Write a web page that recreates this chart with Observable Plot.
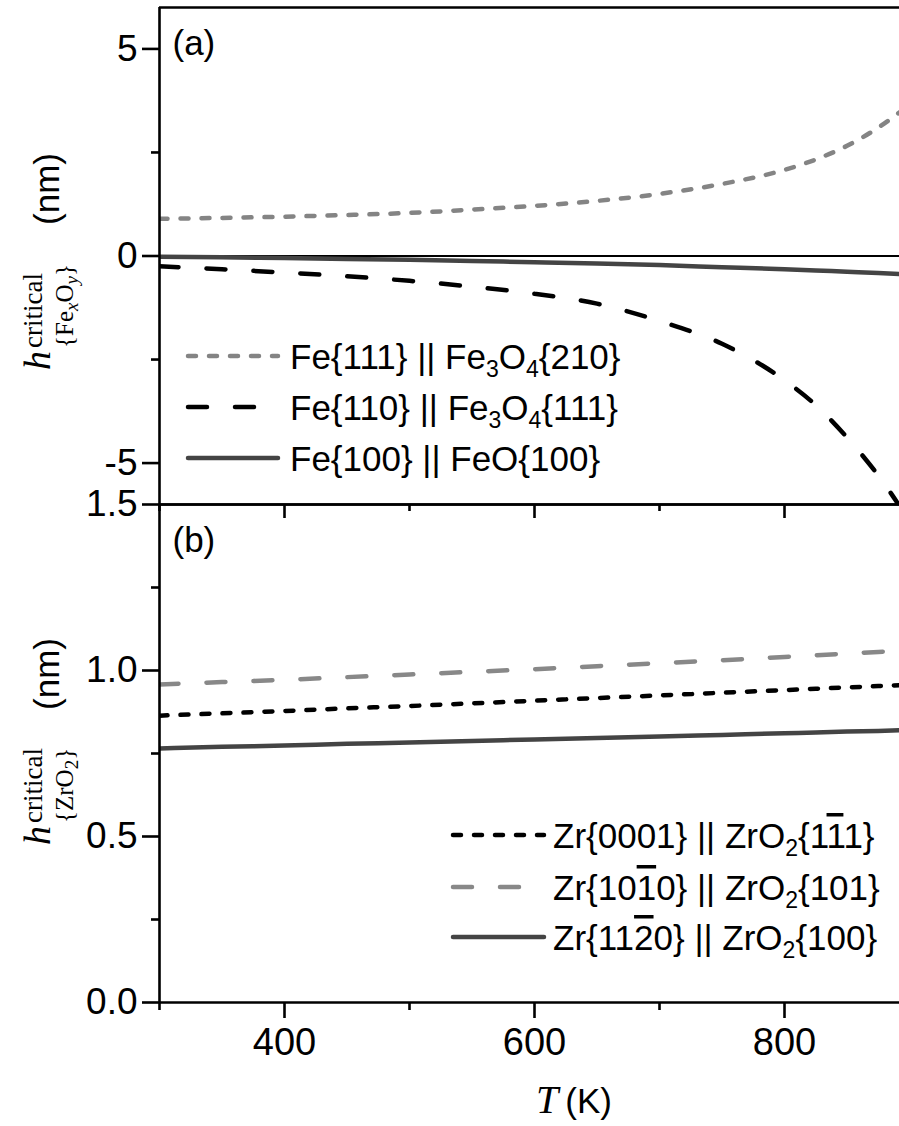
<!DOCTYPE html>
<html><head><meta charset="utf-8">
<script src="https://cdn.jsdelivr.net/npm/d3@7"></script>
<script src="https://cdn.jsdelivr.net/npm/@observablehq/plot@0.6"></script>
<style>
html,body{margin:0;padding:0;background:#fff;overflow:hidden}
#wrap{position:relative;width:899px;height:1126px;overflow:hidden;background:#fff}
#wrap svg{position:absolute;left:0;max-width:none;overflow:visible;background:transparent}
</style></head><body><div id="wrap"></div>
<script>
// ---------- data ----------
const T = [300, 350, 400, 450, 500, 550, 600, 650, 700, 750, 800, 825, 850, 875, 900];
// panel (a)
const fe111_fe3o4_210 = [0.90, 0.92, 0.95, 0.99, 1.04, 1.12, 1.21, 1.33, 1.50, 1.74, 2.08, 2.33, 2.66, 3.10, 3.65];
const fe110_fe3o4_111 = [-0.25, -0.32, -0.40, -0.49, -0.60, -0.74, -0.91, -1.15, -1.57, -2.12, -3.00, -3.60, -4.38, -5.30, -6.40];
const fe100_feo_100   = [-0.02, -0.03, -0.05, -0.07, -0.09, -0.12, -0.15, -0.18, -0.22, -0.27, -0.32, -0.35, -0.38, -0.41, -0.45];
// panel (b)
const zr0001_zro2_1b11 = [0.864, 0.871, 0.878, 0.886, 0.893, 0.901, 0.909, 0.917, 0.925, 0.933, 0.941, 0.945, 0.949, 0.953, 0.957];
const zr10b10_zro2_101 = [0.958, 0.965, 0.972, 0.980, 0.988, 0.996, 1.004, 1.013, 1.022, 1.031, 1.041, 1.046, 1.051, 1.056, 1.062];
const zr11b20_zro2_100 = [0.765, 0.770, 0.774, 0.779, 0.783, 0.788, 0.792, 0.797, 0.801, 0.806, 0.811, 0.813, 0.816, 0.818, 0.821];
// ticks
const xTicksMajor = [400, 600, 800];
const xTicksMinor = [300, 500, 700];
const yTicksA = [-5, 0, 5];
const yTicksAMinor = [-2.5, 2.5];
const yTicksB = [0, 0.5, 1.0, 1.5];
const yTicksBMinor = [0.25, 0.75, 1.25];
const xDomain = [300, 892];
const yDomainA = [-6, 6];
const yDomainB = [0, 1.5];

const sans = '"Liberation Sans", Arial, Helvetica, sans-serif';
const serif = '"Liberation Serif", "Times New Roman", serif';
const series = (vals) => T.map((t, i) => ({T: t, v: vals[i]}));
const AX = 2.6;

const wrap = document.getElementById("wrap");

// ---------- panel (a) ----------
const plotA = Plot.plot({
  width: 899, height: 524,
  marginLeft: 159, marginRight: 0, marginTop: 7, marginBottom: 20,
  style: {fontFamily: sans, background: "transparent", overflow: "visible", maxWidth: "none", color: "#000"},
  x: {domain: xDomain, label: null},
  y: {domain: yDomainA, label: null},
  marks: [
    Plot.axisY({ticks: yTicksA, tickSize: 17, tickPadding: 5, fontSize: 37, strokeWidth: AX, tickFormat: d => String(d), label: null}),
    Plot.axisY({ticks: yTicksAMinor, tickSize: 8, strokeWidth: AX, tickFormat: () => "", label: null}),
    Plot.axisX({ticks: xTicksMajor, tickSize: 14, strokeWidth: AX, tickFormat: () => "", label: null}),
    Plot.axisX({ticks: xTicksMinor, tickSize: 7, strokeWidth: AX, tickFormat: () => "", label: null}),
    Plot.ruleY([0], {stroke: "#000", strokeWidth: 2.2}),
    Plot.line(series(fe100_feo_100), {x: "T", y: "v", stroke: "#444", strokeWidth: 4.5, curve: "monotone-x", clip: true}),
    Plot.line(series(fe111_fe3o4_210), {x: "T", y: "v", stroke: "#848484", strokeWidth: 4.5, strokeDasharray: "8,13", strokeLinecap: "round", curve: "monotone-x", clip: true}),
    Plot.line(series(fe110_fe3o4_111), {x: "T", y: "v", stroke: "#000", strokeWidth: 4.5, strokeDasharray: "19,28", strokeLinecap: "round", curve: "monotone-x", clip: true}),
    Plot.ruleX([300], {stroke: "#000", strokeWidth: AX}),
    Plot.ruleY([6], {stroke: "#000", strokeWidth: AX}),
    Plot.ruleY([-6], {stroke: "#000", strokeWidth: AX}),
    Plot.text(["(a)"], {frameAnchor: "top-left", dx: 13, dy: 36, lineAnchor: "middle", textAnchor: "start", fontSize: 35})
  ]
});
plotA.style.top = "0px";
wrap.appendChild(plotA);

// ---------- panel (b) ----------
const plotB = Plot.plot({
  width: 899, height: 646,
  marginLeft: 159, marginRight: 0, marginTop: 24, marginBottom: 124,
  style: {fontFamily: sans, background: "transparent", overflow: "visible", maxWidth: "none", color: "#000"},
  x: {domain: xDomain, label: null},
  y: {domain: yDomainB, label: null},
  marks: [
    Plot.axisY({ticks: yTicksB, tickSize: 17, tickPadding: 5, fontSize: 37, strokeWidth: AX, tickFormat: d3.format(".1f"), label: null}),
    Plot.axisY({ticks: yTicksBMinor, tickSize: 8, strokeWidth: AX, tickFormat: () => "", label: null}),
    Plot.axisX({ticks: xTicksMajor, tickSize: 16, tickPadding: 10, fontSize: 38, strokeWidth: AX, tickFormat: d => String(d), label: null}),
    Plot.axisX({ticks: xTicksMinor, tickSize: 8, strokeWidth: AX, tickFormat: () => "", label: null}),
    Plot.line(series(zr11b20_zro2_100), {x: "T", y: "v", stroke: "#444", strokeWidth: 4.5, curve: "monotone-x", clip: true}),
    Plot.line(series(zr0001_zro2_1b11), {x: "T", y: "v", stroke: "#000", strokeWidth: 4.5, strokeDasharray: "8,13", strokeLinecap: "round", curve: "monotone-x", clip: true}),
    Plot.line(series(zr10b10_zro2_101), {x: "T", y: "v", stroke: "#888", strokeWidth: 4.5, strokeDasharray: "19,28", strokeLinecap: "round", curve: "monotone-x", clip: true}),
    Plot.ruleX([300], {stroke: "#000", strokeWidth: AX}),
    Plot.ruleY([1.5], {stroke: "#000", strokeWidth: AX}),
    Plot.ruleY([0], {stroke: "#000", strokeWidth: AX}),
    Plot.text(["(b)"], {frameAnchor: "top-left", dx: 13, dy: 36, lineAnchor: "middle", textAnchor: "start", fontSize: 35})
  ]
});
plotB.style.top = "480px";
wrap.appendChild(plotB);

// ---------- y-axis labels ----------
function yLabel(svg, yBottom, yTop, subBuilder) {
  const g = d3.select(svg).append("g").attr("transform", "rotate(-90)")
    .attr("fill", "#000").attr("text-anchor", "start");
  g.append("text").attr("x", -yBottom).attr("y", 50)
    .attr("font-family", serif).attr("font-style", "italic").attr("font-size", 38).text("h");
  g.append("text").attr("x", -yBottom + 22).attr("y", 42)
    .attr("font-family", serif).attr("font-size", 27).text("critical");
  const sub = g.append("text").attr("x", -yBottom + 22).attr("y", 73)
    .attr("font-family", serif).attr("font-size", 25);
  subBuilder(sub);
  g.append("text").attr("x", -yTop).attr("y", 59).attr("text-anchor", "end")
    .attr("font-family", sans).attr("font-size", 35).text("(nm)");
}
yLabel(plotA, 370, 153, t => {
  t.append("tspan").text("{Fe");
  t.append("tspan").attr("font-style", "italic").attr("font-size", 19).attr("dy", 5).text("x");
  t.append("tspan").attr("dy", -5).text("O");
  t.append("tspan").attr("font-style", "italic").attr("font-size", 19).attr("dy", 5).text("y");
  t.append("tspan").attr("dy", -5).text("}");
});
yLabel(plotB, 365, 158, t => {
  t.append("tspan").text("{ZrO");
  t.append("tspan").attr("font-size", 19).attr("dy", 5).text("2");
  t.append("tspan").attr("dy", -5).text("}");
});

// ---------- legends ----------
function legend(svg, items, x0, x1, tx, offsetY) {
  const g = d3.select(svg).append("g").attr("text-anchor", "start");
  items.forEach(it => {
    const y = it.y - offsetY;
    g.append("line").attr("x1", x0).attr("x2", x1).attr("y1", y).attr("y2", y)
      .attr("stroke", it.color).attr("stroke-width", 4.5)
      .attr("stroke-dasharray", it.dash || null).attr("stroke-linecap", "round");
    const t = g.append("text").attr("x", tx).attr("y", y + 13)
      .attr("font-family", sans).attr("font-size", 35).attr("fill", "#000");
    let shifted = false;
    it.parts.forEach(([s, kind]) => {
      const ts = t.append("tspan").text(s);
      if (kind === "sub") {
        ts.attr("font-size", 23).attr("dy", shifted ? 0 : 8); shifted = true;
      } else {
        if (shifted) { ts.attr("dy", -8); shifted = false; }
        if (kind === "over") ts.style("text-decoration", "overline");
      }
    });
  });
}
legend(plotA, [
  {y: 356, color: "#848484", dash: "8,13", parts: [["Fe{111} || Fe"], ["3", "sub"], ["O"], ["4", "sub"], ["{210}"]]},
  {y: 407, color: "#000", dash: "19,28", parts: [["Fe{110} || Fe"], ["3", "sub"], ["O"], ["4", "sub"], ["{111}"]]},
  {y: 458, color: "#444", dash: null, parts: [["Fe{100} || FeO{100}"]]}
], 188, 278, 290, 0);
legend(plotB, [
  {y: 835, color: "#000", dash: "8,13", parts: [["Zr{0001} || ZrO"], ["2", "sub"], ["{1"], ["1", "over"], ["1}"]]},
  {y: 887, color: "#888", dash: "19,28", parts: [["Zr{10"], ["1", "over"], ["0} || ZrO"], ["2", "sub"], ["{101}"]]},
  {y: 937, color: "#444", dash: null, parts: [["Zr{11"], ["2", "over"], ["0} || ZrO"], ["2", "sub"], ["{100}"]]}
], 453, 544, 553, 480);

// ---------- x-axis label ----------
const xl = d3.select(plotB).append("text").attr("x", 536).attr("y", 1113 - 480)
  .attr("fill", "#000").attr("text-anchor", "start");
xl.append("tspan").attr("font-family", serif).attr("font-style", "italic").attr("font-size", 40).text("T");
xl.append("tspan").attr("font-family", sans).attr("font-size", 35).attr("dx", 7).text("(K)");
</script></body></html>
